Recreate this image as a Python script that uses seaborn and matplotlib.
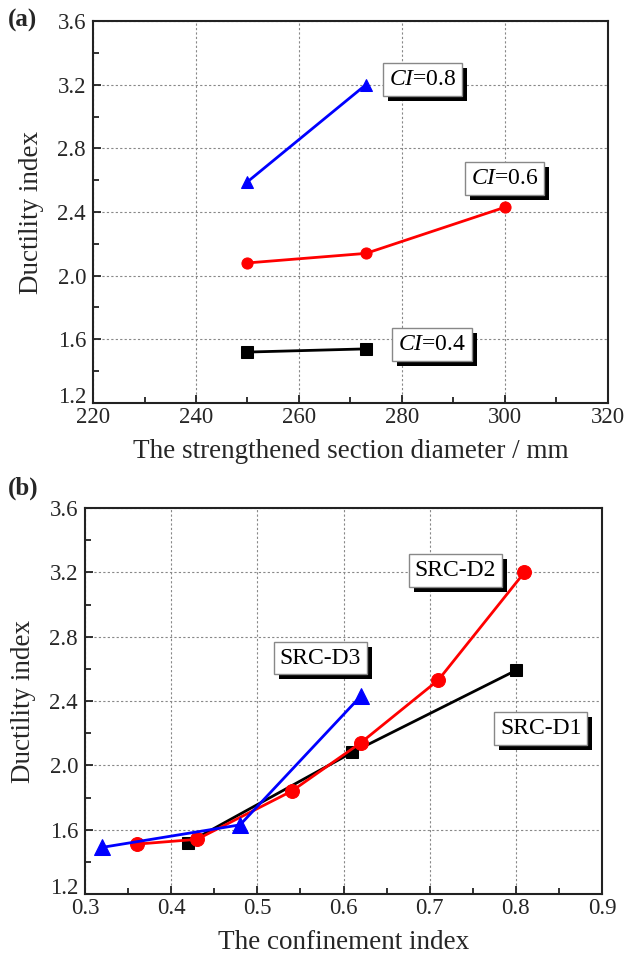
import numpy as np
import pandas as pd
import seaborn as sns
import matplotlib
matplotlib.use("Agg")
import matplotlib.pyplot as plt
from matplotlib.patches import Rectangle
from matplotlib.transforms import IdentityTransform
from matplotlib.ticker import MultipleLocator, FormatStrFormatter, FuncFormatter

# panel (a): ductility index vs strengthened section diameter
diam_04 = [250, 273]
duct_04 = [1.52, 1.54]
diam_06 = [250, 273, 300]
duct_06 = [2.08, 2.14, 2.43]
diam_08 = [250, 273]
duct_08 = [2.59, 3.20]

# panel (b): ductility index vs confinement index
ci_d1 = [0.42, 0.61, 0.80]
duct_d1 = [1.52, 2.08, 2.59]
ci_d2 = [0.36, 0.43, 0.54, 0.62, 0.71, 0.81]
duct_d2 = [1.51, 1.54, 1.84, 2.14, 2.53, 3.20]
ci_d3 = [0.32, 0.48, 0.62]
duct_d3 = [1.49, 1.63, 2.43]

sns.set_style("ticks")
plt.rcParams['font.family'] = ['Liberation Serif', 'DejaVu Serif']
plt.rcParams['mathtext.fontset'] = 'custom'
plt.rcParams['mathtext.rm'] = 'Liberation Serif'
plt.rcParams['mathtext.it'] = 'Liberation Serif:italic'

fig = plt.figure(figsize=(6.25, 9.6), dpi=100)
ax1 = fig.add_axes([93/625, 1 - 403/960, 515/625, 382/960])
ax2 = fig.add_axes([85/625, 1 - 894/960, 517/625, 386/960])

BLACK, RED, BLUE = '#000000', '#ff0000', '#0000ff'
YMIN, YMAX = 1.2, 3.6
boxes = []


def draw(ax, x, y, color, marker, ms):
    df = pd.DataFrame({'x': x, 'y': y})
    sns.lineplot(data=df, x='x', y='y', color=color, marker=marker, markersize=ms,
                 markeredgecolor=color, linewidth=2, sort=False, estimator=None,
                 ax=ax, zorder=3)


def label_box(ax, x, y, s):
    t = ax.text(x, y, s, fontsize=17, ha='center', va='center', color='black', zorder=5,
                bbox=dict(boxstyle='square,pad=0.25', fc='white', ec='#888888', lw=1))
    boxes.append((ax, t))


def ylab(v, pos):
    # the bottom label is drawn separately, a little higher
    return '' if abs(v - YMIN) < 1e-6 else '%.1f' % v


def style(ax, xlim, xmaj, xmin, xfmt, xlabel):
    ax.set_xlim(*xlim)
    ax.set_ylim(YMIN, YMAX)
    ax.xaxis.set_major_locator(MultipleLocator(xmaj))
    ax.xaxis.set_minor_locator(MultipleLocator(xmin))
    ax.xaxis.set_major_formatter(FormatStrFormatter(xfmt))
    ax.yaxis.set_major_locator(MultipleLocator(0.4))
    ax.yaxis.set_minor_locator(MultipleLocator(0.2))
    ax.yaxis.set_major_formatter(FuncFormatter(ylab))
    ax.grid(True, which='major', color='#888888', linestyle=(0, (2, 2)), linewidth=0.8)
    ax.tick_params(which='both', direction='in', top=False, right=False,
                   labelsize=16.5, width=1.3, color='#222222')
    ax.tick_params(which='major', length=6)
    ax.tick_params(which='minor', length=4)
    ax.tick_params(axis='x', pad=3)
    ax.tick_params(axis='y', pad=5)
    for sp in ax.spines.values():
        sp.set_linewidth(1.5)
        sp.set_color('#222222')
    ax.set_xlabel(xlabel, fontsize=19.5, labelpad=8)
    ax.set_ylabel('Ductility index', fontsize=19.5, labelpad=10)
    ax.set_axisbelow(True)
    ax.annotate('%.1f' % YMIN, xy=(0, YMIN), xycoords=('axes fraction', 'data'),
                xytext=(-5, 4), textcoords='offset points', ha='right', va='center',
                fontsize=16.5, annotation_clip=False)


draw(ax1, diam_04, duct_04, BLACK, 's', 8)
draw(ax1, diam_06, duct_06, RED, 'o', 8)
draw(ax1, diam_08, duct_08, BLUE, '^', 9)
style(ax1, (220, 320), 20, 10, '%d', 'The strengthened section diameter / mm')
label_box(ax1, 284.0, 3.23, r'$\mathit{CI}$=0.8')
label_box(ax1, 299.9, 2.61, r'$\mathit{CI}$=0.6')
label_box(ax1, 285.9, 1.57, r'$\mathit{CI}$=0.4')

draw(ax2, ci_d1, duct_d1, BLACK, 's', 9)
draw(ax2, ci_d2, duct_d2, RED, 'o', 10)
draw(ax2, ci_d3, duct_d3, BLUE, '^', 11)
style(ax2, (0.3, 0.9), 0.1, 0.05, '%.1f', 'The confinement index')
label_box(ax2, 0.730, 3.21, 'SRC-D2')
label_box(ax2, 0.573, 2.667, 'SRC-D3')
label_box(ax2, 0.829, 2.23, 'SRC-D1')

fig.text(8/625, 1 - 20/960, '(a)', fontsize=18, fontweight='bold', va='center', ha='left')
fig.text(8/625, 1 - 488/960, '(b)', fontsize=18, fontweight='bold', va='center', ha='left')

# black drop shadow behind each label box
fig.canvas.draw()
for ax, t in boxes:
    bb = t.get_bbox_patch().get_window_extent()
    sh = Rectangle((bb.x0 + 5, bb.y0 - 5), bb.width, bb.height, transform=IdentityTransform(),
                   fc='black', ec='none', zorder=4, clip_on=False)
    ax.add_artist(sh)

fig.savefig('out.png', dpi=100)
